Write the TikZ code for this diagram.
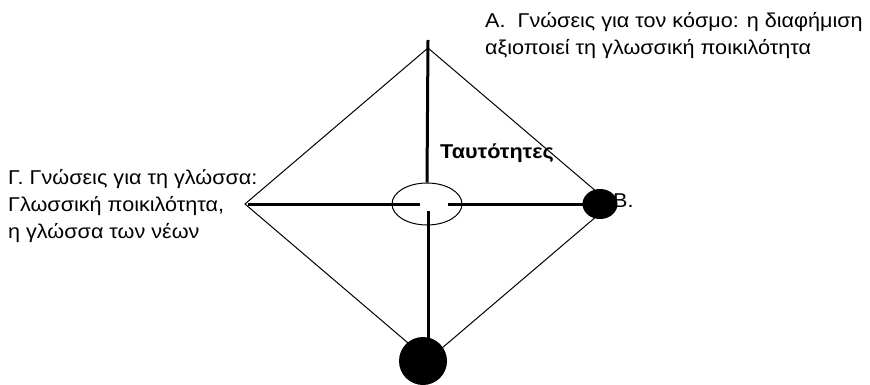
\documentclass[tikz,border=0pt]{standalone}
\usepackage{fontspec}
\setmainfont{Liberation Sans}[FakeStretch=1.08]
\usepackage{tikz}
\usetikzlibrary{shapes.geometric,calc}
\tikzset{
  lbl/.style    ={align=left, inner sep=0pt, font=\fontsize{20}{27}\selectfont},
  hdlbl/.style  ={inner sep=0pt, font=\fontsize{20}{27}\selectfont\bfseries},
  edge/.style   ={line width=1pt},
  axis/.style   ={line width=3pt},
  hub/.style    ={draw, ellipse, line width=1pt, minimum width=70pt,
                  minimum height=42pt, inner sep=0pt},
  dot/.style    ={fill=black, ellipse, inner sep=0pt},
}
\begin{document}
\begin{tikzpicture}[x=1pt,y=-1pt]
  \useasboundingbox (0,0) rectangle (870,385);
  % diamond corners
  \coordinate (top) at (428,48);
  \coordinate (lft) at (245,204);
  \coordinate (rgt) at (611,204);
  \coordinate (bot) at (428,360);
  \coordinate (axtop) at (428,40);
  \coordinate (axbot) at (428,211);
  % labels
  \node[lbl, anchor=north west] (labA) at (485,8.1)
    {\strut Α.\ \ Γνώσεις για τον κόσμο: η διαφήμιση\\αξιοποιεί τη γλωσσική ποικιλότητα};
  \node[lbl, anchor=north west] (labG) at (8,165.1)
    {\strut Γ. Γνώσεις για τη γλώσσα:\\Γλωσσική ποικιλότητα,\\η γλώσσα των νέων};
  \node[hdlbl, anchor=base west] (ident) at (440,158) {Ταυτότητες};
  \node[lbl, anchor=base west] (labB) at (613,207) {Β.};
  % diamond
  \draw[edge] (top) -- (rgt) -- (bot) -- (lft) -- cycle;
  % cross
  \node[hub] (core) at (427,204) {};
  \draw[axis] (axtop) -- (core.north);
  \draw[axis] (248,204) -- (420,204);
  \draw[axis] (448,204) -- (600,204);
  \draw[axis] (axbot) -- (428,350);
  % end dots
  \node[dot, minimum width=35pt, minimum height=30pt] (dotB) at (600,204) {};
  \node[dot, circle, minimum size=48pt] (dotG) at (423,361) {};
\end{tikzpicture}
\end{document}
